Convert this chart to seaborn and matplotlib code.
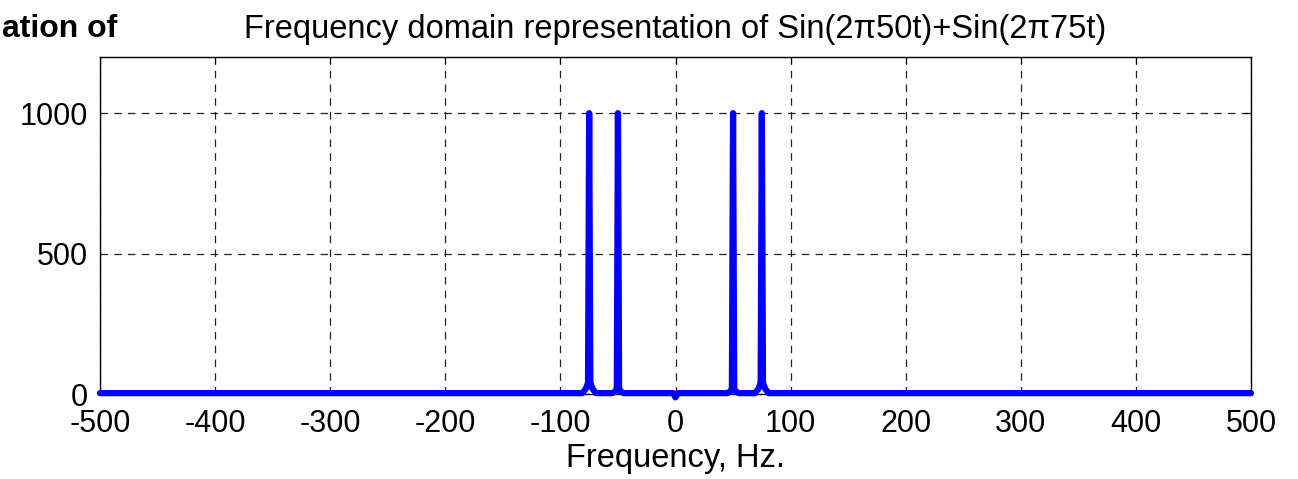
import numpy as np
import pandas as pd
import matplotlib
matplotlib.use('Agg')
import matplotlib.pyplot as plt
import seaborn as sns

# spectrum (Hz, magnitude)
freq = [-500, -81, -78, -76, -75, -74, -72, -69,
        -55, -52, -51, -50, -49, -48, -45,
        -2, 0, 2,
        45, 48, 49, 50, 51, 52, 55,
        69, 72, 74, 75, 76, 78, 81, 500]
mag = [3, 3, 18, 40, 1000, 40, 18, 3,
       3, 10, 22, 1000, 22, 10, 3,
       3, -12, 3,
       3, 10, 22, 1000, 22, 10, 3,
       3, 18, 40, 1000, 40, 18, 3, 3]

xticks = [-500, -400, -300, -200, -100, 0, 100, 200, 300, 400, 500]
yticks = [0, 500, 1000]

df = pd.DataFrame({'f': freq, 'mag': mag})

sns.set_style('white')
plt.rcParams['font.family'] = ['Liberation Sans', 'DejaVu Sans']
plt.rcParams['axes.unicode_minus'] = False
plt.rcParams['text.color'] = 'black'
plt.rcParams['axes.labelcolor'] = 'black'

fig = plt.figure(figsize=(12.98, 4.79), dpi=100)
ax = fig.add_axes([100 / 1298, 1 - 394 / 479, 1151 / 1298, 337 / 479])

sns.lineplot(data=df, x='f', y='mag', ax=ax, color='#0000ff', linewidth=4.5,
             clip_on=False, zorder=5)

ax.set_xlim(-500, 500)
ax.set_ylim(0, 1200)
ax.set_xticks(xticks)
ax.set_yticks(yticks)
ax.tick_params(direction='in', length=5, width=0.8, labelsize=22,
               top=True, right=True, colors='black')
ax.tick_params(axis='x', pad=11)
ax.tick_params(axis='y', pad=9)
ax.grid(True, color='#222222', linestyle=(0, (6, 5)), linewidth=0.9)
for s in ax.spines.values():
    s.set_color('black')
    s.set_linewidth(1.0)

ax.set_xlabel('Frequency, Hz.', fontsize=23.5, labelpad=3)
ax.set_ylabel('')
ax.set_title('Frequency domain representation of Sin(2\u03c050t)+Sin(2\u03c075t)',
             fontsize=23.5, pad=14)

# clipped neighbouring title at the left edge
fig.text(117 / 1298, 1 - 29 / 479, 'ation of', fontsize=23, fontweight='bold',
         ha='right', va='center')

fig.savefig('out.png', dpi=100)
